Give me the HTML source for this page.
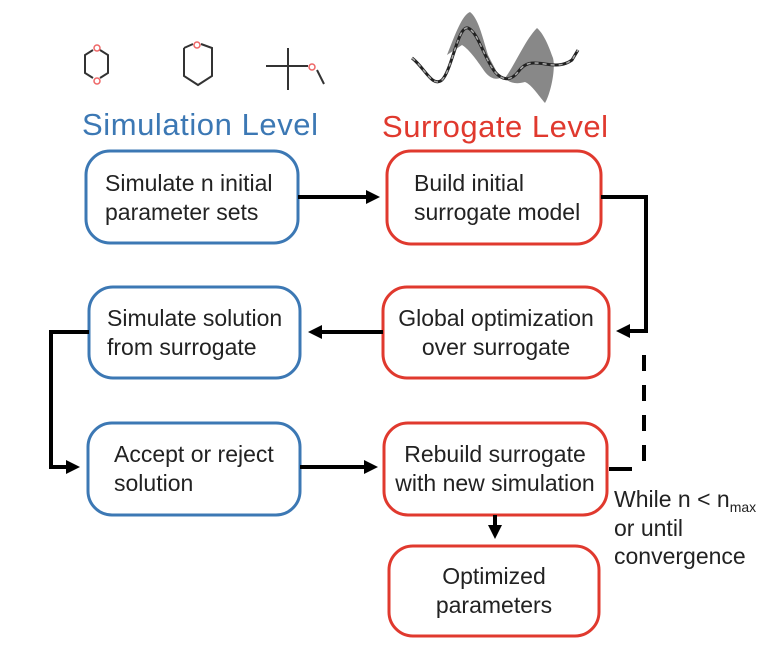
<!DOCTYPE html>
<html><head><meta charset="utf-8"><style>
html,body{margin:0;padding:0;background:#fff;}
svg{display:block;font-family:"Liberation Sans",Arial,sans-serif;}
.t{font-size:23px;fill:#222;}
</style></head><body>
<svg width="784" height="664" viewBox="0 0 784 664">
<defs><marker id="a" markerWidth="14" markerHeight="14" refX="10" refY="7" orient="auto" markerUnits="userSpaceOnUse"><path d="M0,0 L14,7 L0,14 Z" fill="#000"/></marker></defs>
<g stroke="#333" stroke-width="2" fill="none">
<path d="M93,50 L85,55 L85,73 L93,78 M100,50 L108,55 L108,73 L100,78"/>
<path d="M184,48 L184,76 L198,85 L212,76 L212,48 L201,44 M184,48 L193,44"/>
<path d="M266,66 L302,66 M288,48 L288,90 M302,66 L308,66 M317,70 L324,84"/>
</g>
<g stroke="#e66" stroke-width="1.5" fill="none">
<circle cx="97" cy="48" r="3"/><circle cx="97" cy="81" r="3"/><circle cx="197" cy="45" r="3"/><circle cx="312" cy="67" r="3"/>
</g>
<path d="M447,55 C455,35 462,15 470,12 C478,18 482,35 488,55 C493,65 497,72 500,78 C495,80 490,78 485,72 C478,62 470,50 462,45 Z" fill="#888"/>
<path d="M505,78 C515,65 525,40 537,28 C545,35 550,50 553,58 C556,70 550,95 545,103 C538,95 532,85 525,82 C515,85 508,82 505,78 Z" fill="#888"/>
<path d="M412,58 C425,68 432,88 442,80 C452,70 458,25 468,28 C478,32 484,58 495,72 C502,80 510,82 518,72 C525,62 532,62 545,64 C558,66 565,65 572,60 L578,50" fill="none" stroke="#222" stroke-width="3"/>
<path d="M412,58 C425,68 432,88 442,80 C452,70 458,25 468,28 C478,32 484,58 495,72 C502,80 510,82 518,72 C525,62 532,62 545,64 C558,66 565,65 572,60 L578,50" fill="none" stroke="#aaa" stroke-width="1.5" stroke-dasharray="4 4"/>
<text x="82" y="135" font-size="31" fill="#3c78b4" textLength="236">Simulation Level</text>
<text x="382" y="137" font-size="31" fill="#e0392e" textLength="226">Surrogate Level</text>
<g fill="none" stroke-width="3">
<rect x="86" y="151" width="212" height="92" rx="24" stroke="#3c78b4"/>
<rect x="387" y="151" width="214" height="93" rx="24" stroke="#e0392e"/>
<rect x="89" y="287" width="211" height="91" rx="24" stroke="#3c78b4"/>
<rect x="383" y="287" width="226" height="91" rx="24" stroke="#e0392e"/>
<rect x="88" y="423" width="212" height="92" rx="24" stroke="#3c78b4"/>
<rect x="384" y="423" width="223" height="92" rx="24" stroke="#e0392e"/>
<rect x="389" y="546" width="210" height="90" rx="24" stroke="#e0392e"/>
</g>
<g stroke="#000" stroke-width="4" fill="none">
<path d="M298,197 L376,197" marker-end="url(#a)"/>
<path d="M601,197 L646,197 L646,331 L620,331" marker-end="url(#a)"/>
<path d="M383,332 L312,332" marker-end="url(#a)"/>
<path d="M89,332 L51,332 L51,467 L76,467" marker-end="url(#a)"/>
<path d="M300,467 L374,467" marker-end="url(#a)"/>
<path d="M495,515 L495,535" marker-end="url(#a)"/>
<path d="M644,355 L644,462" stroke-dasharray="16 14"/>
<path d="M609,469 L632,469"/>
</g>
<g class="t">
<text x="105" y="191">Simulate n initial</text><text x="105" y="220">parameter sets</text>
<text x="414" y="191">Build initial</text><text x="414" y="220">surrogate model</text>
<text x="107" y="326">Simulate solution</text><text x="107" y="355">from surrogate</text>
<text x="496" y="326" text-anchor="middle">Global optimization</text><text x="496" y="355" text-anchor="middle">over surrogate</text>
<text x="114" y="462">Accept or reject</text><text x="114" y="491">solution</text>
<text x="495" y="462" text-anchor="middle">Rebuild surrogate</text><text x="495" y="491" text-anchor="middle">with new simulation</text>
<text x="494" y="584" text-anchor="middle">Optimized</text><text x="494" y="613" text-anchor="middle">parameters</text>
<text x="614" y="507">While n &lt; n<tspan font-size="14" dy="5">max</tspan></text>
<text x="614" y="536" dy="0">or until</text>
<text x="614" y="564">convergence</text>
</g>
</svg>
</body></html>
